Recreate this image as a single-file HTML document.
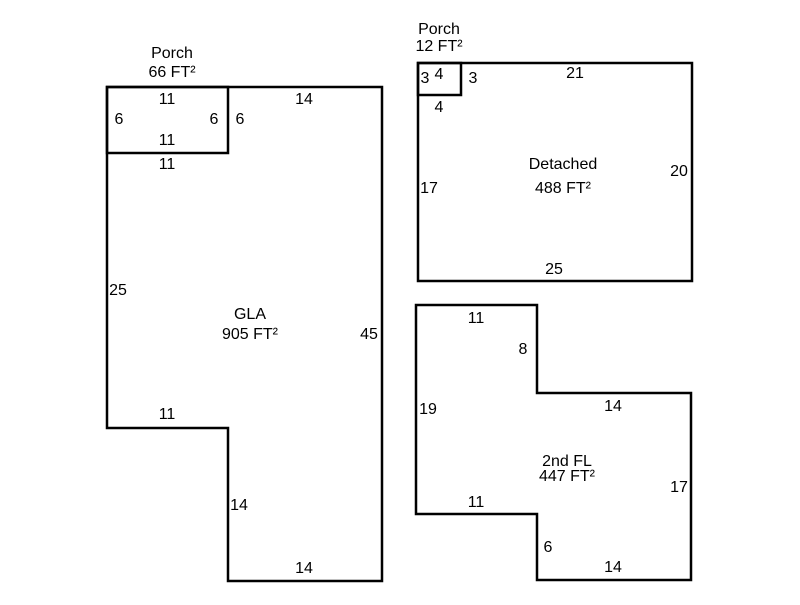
<!DOCTYPE html>
<html><head><style>body{margin:0;background:#fff}</style></head><body>
<svg width="800" height="600" xmlns="http://www.w3.org/2000/svg" font-family="Liberation Sans, Arial, sans-serif" font-size="16" fill="#000">
<g fill="none" stroke="#000" stroke-width="2.5">
<polygon points="107,87 382,87 382,581 228,581 228,428 107,428"/>
<rect x="107" y="87" width="121" height="66"/>
<rect x="418" y="63" width="274" height="218"/>
<rect x="418" y="63" width="43" height="32"/>
<polygon points="416,305 537,305 537,393 691,393 691,580 537,580 537,514 416,514"/>
</g>
<g text-anchor="middle">
<text x="172" y="58">Porch</text><text x="172" y="77">66 FT²</text>
<text x="167" y="104">11</text><text x="304" y="104">14</text>
<text x="119" y="124">6</text><text x="214" y="124">6</text><text x="240" y="124">6</text>
<text x="167" y="145">11</text><text x="167" y="169">11</text>
<text x="118" y="295">25</text>
<text x="250" y="319">GLA</text><text x="250" y="339">905 FT²</text>
<text x="369" y="339">45</text>
<text x="167" y="419">11</text><text x="239" y="510">14</text><text x="304" y="573">14</text>
<text x="439" y="34">Porch</text><text x="439" y="51">12 FT²</text>
<text x="425" y="83">3</text><text x="439" y="79">4</text><text x="473" y="83">3</text>
<text x="439" y="112">4</text><text x="575" y="78">21</text>
<text x="563" y="169">Detached</text><text x="563" y="193">488 FT²</text>
<text x="679" y="176">20</text><text x="429" y="193">17</text><text x="554" y="274">25</text>
<text x="476" y="323">11</text><text x="523" y="354">8</text>
<text x="428" y="414">19</text><text x="613" y="411">14</text>
<text x="567" y="466">2nd FL</text><text x="567" y="481">447 FT²</text>
<text x="679" y="492">17</text><text x="476" y="507">11</text>
<text x="548" y="552">6</text><text x="613" y="572">14</text>
</g>
</svg>
</body></html>
